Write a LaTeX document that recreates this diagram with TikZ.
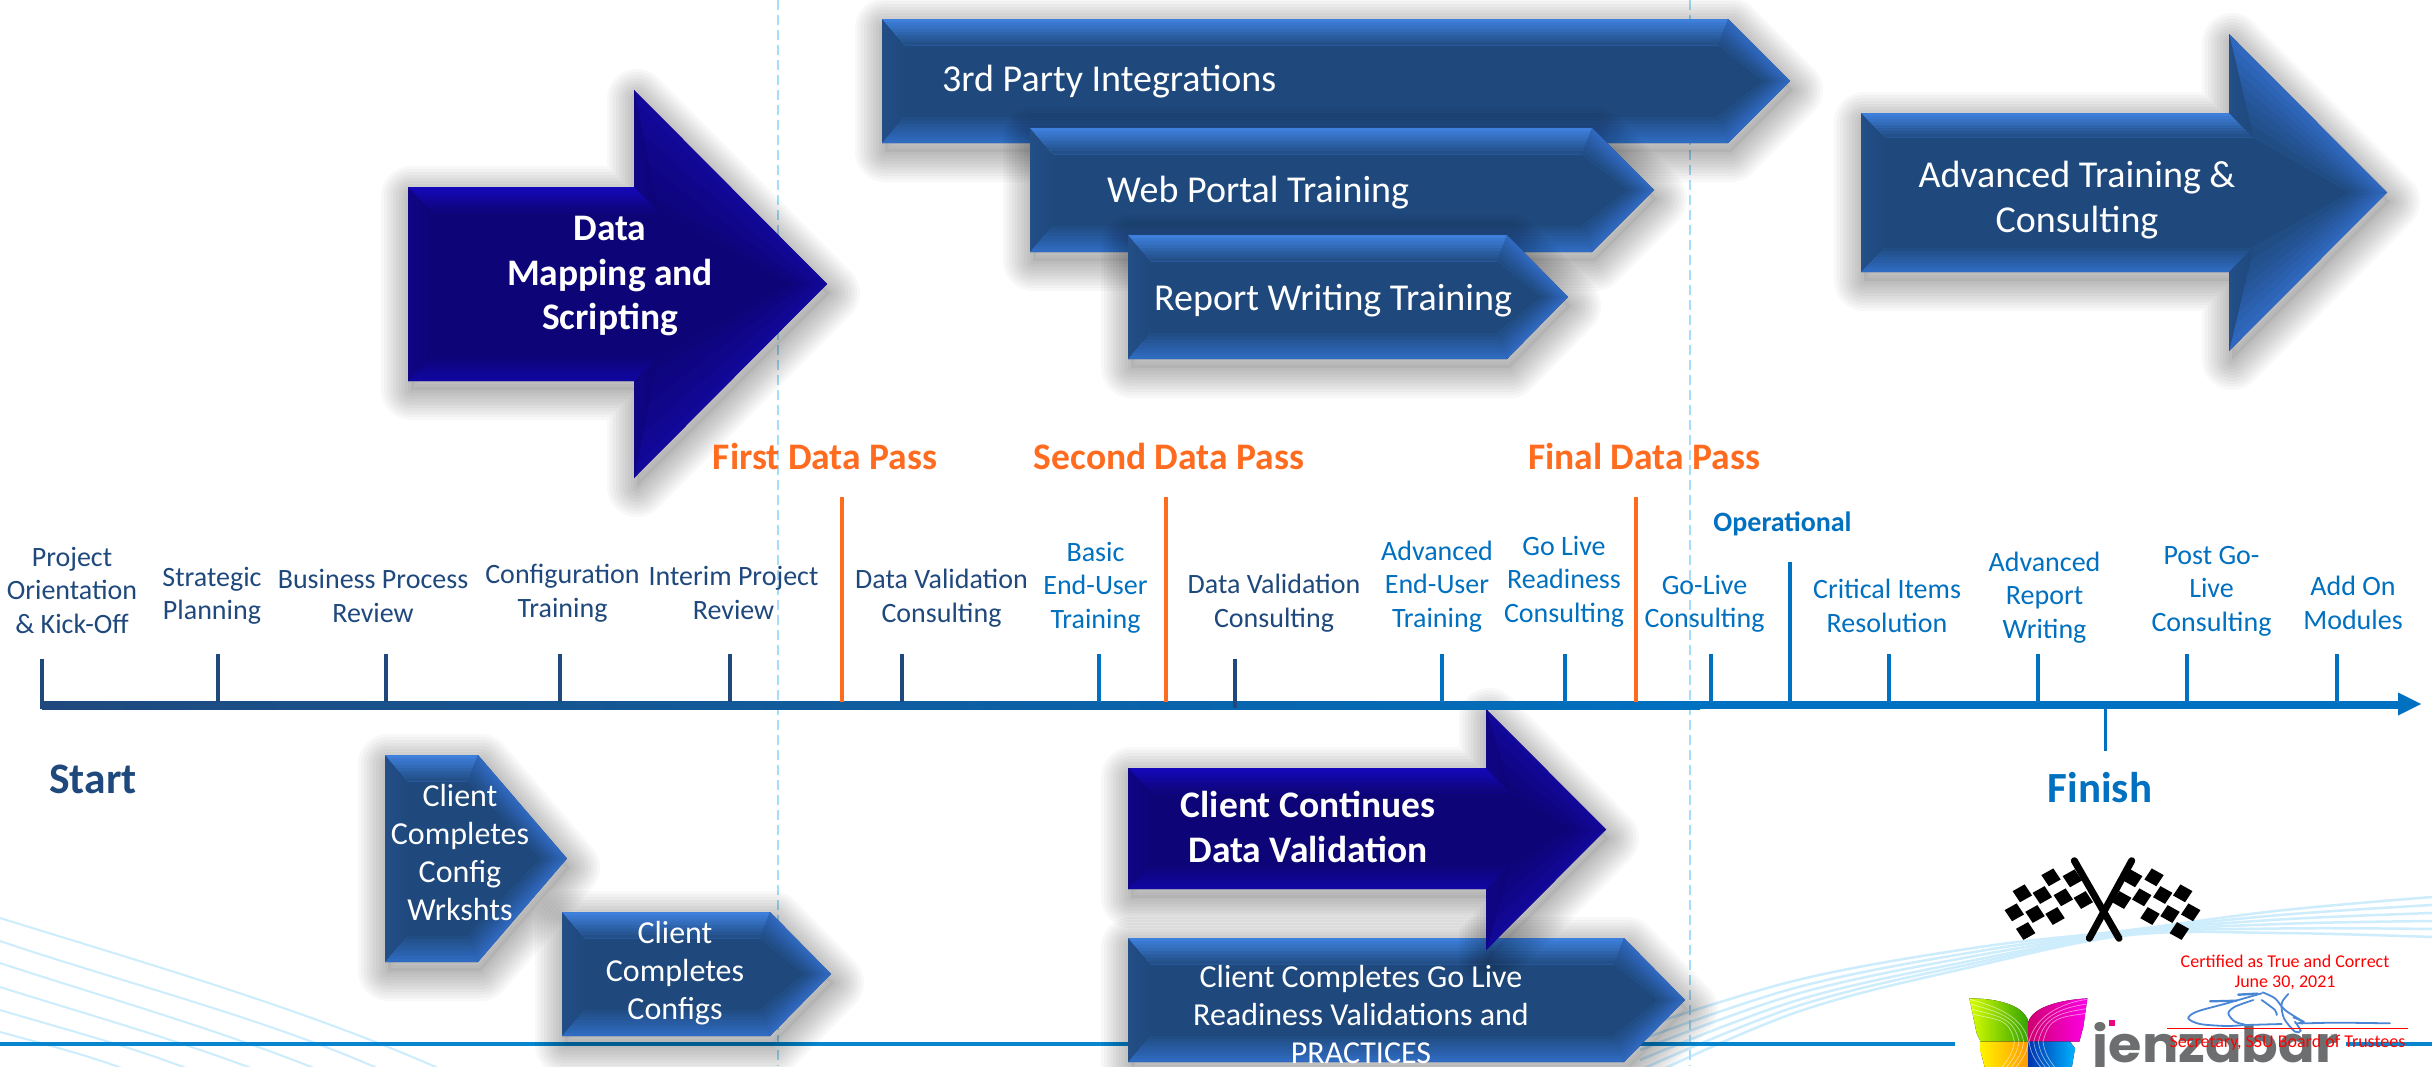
\documentclass[tikz,border=0pt]{standalone}
\usepackage{fontspec}
\setmainfont{Carlito}
\newfontfamily\jzfont{Poppins}
\usetikzlibrary{calc}
\definecolor{navyb}{HTML}{1F497D}
\definecolor{lineb}{HTML}{0070C0}
\definecolor{orng}{HTML}{FF6C20}
\definecolor{wave}{HTML}{CDEDFD}
\definecolor{dashc}{HTML}{A6DDF8}
\definecolor{bline}{HTML}{0785CE}
\definecolor{jgray}{HTML}{6D6E70}
\definecolor{sigc}{HTML}{4A86D6}
\newcommand\useblue{\colorlet{bevbase}{navyb}\definecolor{bevtop}{HTML}{3D7FDB}\definecolor{bevlow}{HTML}{2F6BC0}\definecolor{bevleft}{HTML}{234E86}\definecolor{bevhead}{HTML}{2F68BE}\definecolor{bevside}{HTML}{234E86}}
\newcommand\usenavy{\definecolor{bevbase}{HTML}{0D0477}\definecolor{bevtop}{HTML}{1408B8}\definecolor{bevlow}{HTML}{1006A0}\definecolor{bevleft}{HTML}{0F0585}\definecolor{bevhead}{HTML}{120899}\definecolor{bevside}{HTML}{0F0585}}
\newcommand\bev[5]{\foreach \k in {0,...,7}{%
  \pgfmathsetmacro\bt{\k/8}\pgfmathtruncatemacro\bp{100-12.5*\k}%
  \fill[#5!\bp!bevbase] ($(#1)!\bt!(#4)$) -- ($(#2)!\bt!(#3)$) -- (#3) -- (#4) -- cycle;}}
\newcommand\castshadow{\foreach \w in {60,54,48,42,36,30,24,18,12,6}{%
  \draw[black,opacity=.026,line width=\w pt,line join=round,shift={(3,9)}] \shapepath;}%
  \fill[black,opacity=.05,shift={(3,9)}] \shapepath;}
% pentagon arrow: L T B N P
\newcommand\pentarrow[5]{%
  \pgfmathsetmacro\Mid{(#2+#3)/2}%
  \pgfmathsetmacro\InT{#2+26}\pgfmathsetmacro\InB{#3-26}%
  \pgfmathsetmacro\InL{#1+23}\pgfmathsetmacro\InN{#4-10}\pgfmathsetmacro\InP{#5-26}%
  \def\shapepath{(#1,#2) -- (#4,#2) -- (#5,\Mid) -- (#4,#3) -- (#1,#3) -- cycle}%
  \castshadow
  \fill[bevbase] \shapepath;
  \coordinate (a1) at (#1,#2); \coordinate (a2) at (#4,#2); \coordinate (a3) at (#5,\Mid);
  \coordinate (a4) at (#4,#3); \coordinate (a5) at (#1,#3);
  \coordinate (b1) at (\InL,\InT); \coordinate (b2) at (\InN,\InT); \coordinate (b3) at (\InP,\Mid);
  \coordinate (b4) at (\InN,\InB); \coordinate (b5) at (\InL,\InB);
  \bev{a1}{a5}{b5}{b1}{bevleft}
  \bev{a1}{a2}{b2}{b1}{bevtop}
  \bev{a5}{a4}{b4}{b5}{bevlow}
  \bev{a2}{a3}{b3}{b2}{bevhead}
  \bev{a3}{a4}{b4}{b3}{bevhead}}
% block arrow: L T B N P HT HB
\newcommand\blockarrow[7]{%
  \pgfmathsetmacro\Mid{(#6+#7)/2}%
  \pgfmathsetmacro\InT{#2+24}\pgfmathsetmacro\InB{#3-24}%
  \pgfmathsetmacro\InL{#1+24}\pgfmathsetmacro\InN{#4+24}\pgfmathsetmacro\InP{#5-36}%
  \def\shapepath{(#1,#2) -- (#4,#2) -- (#4,#6) -- (#5,\Mid) -- (#4,#7) -- (#4,#3) -- (#1,#3) -- cycle}%
  \castshadow
  \fill[bevbase] \shapepath;
  \coordinate (a1) at (#1,#2); \coordinate (a2) at (#4,#2); \coordinate (a3) at (#4,#6);
  \coordinate (a4) at (#5,\Mid); \coordinate (a5) at (#4,#7); \coordinate (a6) at (#4,#3); \coordinate (a7) at (#1,#3);
  \coordinate (b1) at (\InL,\InT); \coordinate (b2) at (\InN,\InT); \coordinate (b3) at (\InP,\Mid);
  \coordinate (b4) at (\InN,\InB); \coordinate (b5) at (\InL,\InB);
  \bev{a1}{a7}{b5}{b1}{bevleft}
  \bev{a1}{a2}{b2}{b1}{bevtop}
  \bev{a7}{a6}{b4}{b5}{bevlow}
  \bev{a3}{a4}{b3}{b2}{bevhead}
  \bev{a4}{a5}{b4}{b3}{bevhead}
  \bev{a3}{a2}{b2}{b2}{bevside}
  \bev{a6}{a5}{b4}{b4}{bevside}}
\tikzset{
  tl/.style={align=center,inner sep=0pt,font=\fontsize{28}{33.5}\selectfont},
  dk/.style={tl,text=navyb},
  lb/.style={tl,text=lineb},
  pass/.style={inner sep=0pt,text=orng,font=\fontsize{37.5}{44}\selectfont\bfseries},
  wt/.style={align=center,inner sep=0pt,text=white,font=\fontsize{32}{38}\selectfont},
  wtbig/.style={align=center,inner sep=0pt,text=white,font=\fontsize{38}{45}\selectfont},
  wtb/.style={align=center,inner sep=0pt,text=white,font=\fontsize{37.5}{44.5}\selectfont\bfseries},
  redt/.style={inner sep=0pt,text=red,font=\fontsize{18}{22}\selectfont},
  wv/.style={wave,line width=2.5pt},
  tickd/.style={navyb,line width=3.5pt},
  tickl/.style={lineb,line width=3.5pt},
  ticko/.style={orng,line width=4pt},
}
\begin{document}
\begin{tikzpicture}[x=1pt,y=-1pt]
\useasboundingbox (0,0) rectangle (2432,1066);
\clip (0,0) rectangle (2432,1066);
\fill[white] (0,0) rectangle (2432,1066);
% waves
\foreach \a/\b/\c/\d in {918/153/306/438,941/118/265/377,963/100/210/314,987/80/165/251,1010/60/125/186,1032/40/80/122}{
  \draw[wv,line width=2pt] (0,\a) .. controls (\b,{\a+(1066-\a)*0.32}) and (\c,{\a+(1066-\a)*0.62}) .. (\d,1068);}
\foreach \a/\b/\c/\d in {1028/947/930/897,1040/951/931/905,1050/955/932/913,1060/959/933/921,1070/962/934/929,1080/965/935/937}{
  \draw[wv] plot[smooth,tension=.6] coordinates {(1640,\a) (1800,{\a-(\a-\b)*.6}) (1980,\b) (2130,\c) (2280,{(\c+\d)/2-3}) (2432,\d)};}
% guide lines and bottom rule
\coordinate (g1t) at (778,0); \coordinate (g1b) at (778,1066);
\coordinate (g2t) at (1690,0); \coordinate (g2b) at (1690,1066);
\draw[dashc,line width=1.8pt,dash pattern=on 10pt off 5pt] (g1t) -- (g1b);
\draw[dashc,line width=1.8pt,dash pattern=on 10pt off 5pt] (g2t) -- (g2b);
\coordinate (r1) at (0,1043.5); \coordinate (r2) at (1955,1043.5); \coordinate (r3) at (2346,1043.5); \coordinate (r4) at (2432,1043.5);
\draw[bline,line width=4pt] (r1) -- (r2);
\draw[bline,line width=4pt] (r3) -- (r4);
% big arrows
\useblue
\pentarrow{882}{19}{143}{1728}{1790}
\pentarrow{1030}{128}{252}{1592}{1654}
\pentarrow{1128}{235}{359}{1507}{1568}
\blockarrow{1861}{113}{272}{2229}{2387}{34}{351}
\pentarrow{385}{755}{962}{478}{567}
\pentarrow{562}{912}{1036}{770}{831}
\pentarrow{1128}{938}{1062}{1624}{1685}
\usenavy
\blockarrow{408}{187}{381}{634}{827}{90}{478}
\blockarrow{1128}{768}{889}{1486}{1606}{709}{950}
% axis
\coordinate (axL) at (42,701); \coordinate (axM) at (1700,709); \coordinate (axN) at (1699,701); \coordinate (axR) at (2400,709); \coordinate (axT) at (2421,704);
\fill[left color=navyb,right color=lineb] (axL) rectangle (axM);
\fill[lineb] (axN) rectangle (axR);
\fill[lineb] (2398,692.5) -- (axT) -- (2398,715.5) -- cycle;
% ticks
\foreach \n/\x/\ty/\by/\st in {a/42/659/709/tickd,b/218/654/702/tickd,c/386/654/702/tickd,d/560/654/702/tickd,e/730/654/702/tickd,f/902/654/702/tickd,g/1099/654/702/tickl,h/1235/659/708/tickd,i/1442/654/702/tickl,j/1565/654/702/tickl,k/1711/654/702/tickl,l/1790/562/702/tickl,m/1889/654/702/tickl,n/2038/654/702/tickl,o/2187/654/702/tickl,p/2337/654/702/tickl,q/842/497/702/ticko,r/1165.5/497/702/ticko,s/1635.5/497/702/ticko,t/2105.5/708/751/tickl}{
  \coordinate (tk\n a) at (\x,\ty); \coordinate (tk\n b) at (\x,\by);
  \draw[\st] (tk\n a) -- (tk\n b);}
% timeline labels
\node[dk] (l1) at (72,590) {Project\\Orientation\\\& Kick-Off};
\node[dk] (l2) at (212,596) {Strategic\\Planning};
\node[dk] (l3) at (373,596) {Business Process\\Review};
\node[dk] (l4) at (562.5,593) {Configuration\\Training};
\node[dk] (l5) at (733.5,593) {Interim Project\\Review};
\node[dk] (l6) at (941.5,598) {Data Validation\\Consulting};
\node[lb] (l7) at (1095.5,587.5) {Basic\\End-User\\Training};
\node[dk] (l8) at (1274,603) {Data Validation\\Consulting};
\node[lb] (l9) at (1437,586.5) {Advanced\\End-User\\Training};
\node[lb] (l10) at (1564,581.5) {Go Live\\Readiness\\Consulting};
\node[lb] (l11) at (1704.5,604) {Go-Live\\Consulting};
\node[lb] (l12) at (1887,606) {Critical Items\\Resolution};
\node[lb] (l13) at (2044.5,597.5) {Advanced\\Report\\Writing};
\node[lb] (l14) at (2211.5,591) {Post Go-\\Live\\Consulting};
\node[lb] (l15) at (2353,603) {Add On\\Modules};
\node[inner sep=0pt,text=lineb,font=\fontsize{28}{32}\selectfont\bfseries] (op) at (1782.5,524) {Operational};
\node[pass] (p1) at (825,456) {First Data Pass};
\node[pass] (p2) at (1169,456) {Second Data Pass};
\node[pass] (p3) at (1644,456) {Final Data Pass};
\node[inner sep=0pt,text=navyb,font=\fontsize{43.5}{50}\selectfont\bfseries] (st) at (93,779) {Start};
\node[inner sep=0pt,text=lineb,font=\fontsize{43}{50}\selectfont\bfseries] (fi) at (2100,788) {Finish};
% arrow texts
\node[wtbig,anchor=west] (w1) at (942,81.5) {3rd Party Integrations};
\node[wtbig,anchor=west] (w2) at (1107,193) {Web Portal Training};
\node[wtbig,anchor=west] (w3) at (1154,301) {Report Writing Training};
\node[wtbig] (w4) at (2077,200) {Advanced Training \&\\Consulting};
\node[wtb] (w5) at (610,276.5) {Data\\Mapping and\\Scripting};
\node[wtb] (w6) at (1308,827) {Client Continues\\Data Validation};
\node[wt] (w7) at (460,852.5) {Client\\Completes\\Config\\Wrkshts};
\node[wt] (w8) at (675,973.5) {Client\\Completes\\Configs};
\node[wt] (w9) at (1361,1014) {Client Completes Go Live\\Readiness Validations and\\PRACTICES};
% flags
\foreach \px/\py/\qx/\qy in {2074.3/860.7/2119/938.3,2131.7/860.7/2089.3/938.3}{
  \draw[black,line width=7pt,line cap=round] (\px,\py) -- (\qx,\qy);}
\foreach \cx/\cy in {2051/877.3,2072.3/878.3,2022.3/893.3,2042.3/895,2063.3/897.3,2083.3/900,2014.3/912.3,2035/914,2055/916,2025.7/931}{
  \fill[black] ({\cx-9.7},{\cy-2.2}) -- ({\cx+2.3},{\cy-8.9}) -- ({\cx+9.7},{\cy+2.2}) -- ({\cx-2.3},{\cy+8.9}) -- cycle;
  \pgfmathsetmacro\mx{4205-\cx}
  \fill[black] ({\mx+9.7},{\cy-2.2}) -- ({\mx-2.3},{\cy-8.9}) -- ({\mx-9.7},{\cy+2.2}) -- ({\mx+2.3},{\cy+8.9}) -- cycle;}
% logo
\begin{scope}[shift={(1960,980)},x=.3333pt,y=-.3333pt]
  \fill[left color=white!0!yellow!85!green,right color=green!55!black!80!yellow] (28,55) .. controls (100,55) and (190,70) .. (205,125) -- (205,185) -- (62,185) -- (50,160) -- cycle;
  \fill[left color=purple!75!magenta,right color=magenta!90!red] (382,55) .. controls (300,60) and (220,80) .. (205,125) -- (205,185) -- (358,185) -- (370,140) -- cycle;
  \fill[left color=yellow!90!orange,right color=orange!80!yellow] (62,185) -- (205,185) -- (205,265) -- (75,265) -- (62,215) -- cycle;
  \fill[left color=blue!60!black!80!cyan,right color=cyan!70!blue] (205,185) -- (330,185) -- (345,205) -- (335,265) -- (205,265) -- cycle;
  \foreach \o in {0,14,28,42}{
    \draw[white,opacity=.55,line width=.7pt] (30,{58+\o}) .. controls (110,{80+\o}) and ({190-\o},110) .. ({205-\o},185);
    \draw[white,opacity=.55,line width=.7pt] (380,{58+\o}) .. controls (300,{70+\o}) and ({225+\o},110) .. ({207+\o},185);
    \draw[white,opacity=.55,line width=.7pt] ({205-\o},185) .. controls ({200-\o},220) and ({185-\o},240) .. ({165-\o},265);
    \draw[white,opacity=.55,line width=.7pt] ({207+\o},185) .. controls ({212+\o},220) and ({225+\o},240) .. ({245+\o},265);}
  \node[inner sep=0pt,anchor=base west,text=jgray,xscale=1.08,transform shape,font=\jzfont\bfseries\fontsize{50}{50}\selectfont] (jz) at (398,247) {jenzabar};
  \fill[magenta!90!red] (446,119) rectangle (466,139);
  \node[inner sep=0pt,text=jgray,font=\fontsize{6}{6}\selectfont] (jr) at (1117,170) {®};
  % signature
  \begin{scope}[sigc,line width=1.8pt,line cap=round]
    \draw plot[smooth] coordinates {(905,40) (800,70) (710,95) (685,115) (720,132) (800,138) (860,135) (965,132)};
    \draw plot[smooth] coordinates {(880,60) (825,80) (805,100) (825,125) (860,135)};
    \draw[line width=2.2pt] (750,64) -- (830,62);
    \draw[line width=2.4pt] (835,44) -- (892,41);
    \draw plot[smooth] coordinates {(908,37) (945,55) (975,90) (1030,125)};
    \draw plot[smooth] coordinates {(985,42) (965,70) (972,115) (1005,155) (1022,152) (1005,125)};
    \draw plot[smooth] coordinates {(905,60) (945,90) (950,105)};
    \draw plot[smooth] coordinates {(1000,112) (1030,125) (1020,130) (1130,128) (1290,130)};
  \end{scope}
\end{scope}
% certification
\coordinate (c1) at (2167,1028); \coordinate (c2) at (2408,1028);
\draw[red,line width=1pt] (c1) -- (c2);
\node[redt] (t1) at (2285,961.5) {Certified as True and Correct};
\node[redt] (t2) at (2285,983) {June 30, 2021};
\node[redt] (t3) at (2287.5,1042.5) {Secretary, SSU Board of Trustees};
\end{tikzpicture}
\end{document}
